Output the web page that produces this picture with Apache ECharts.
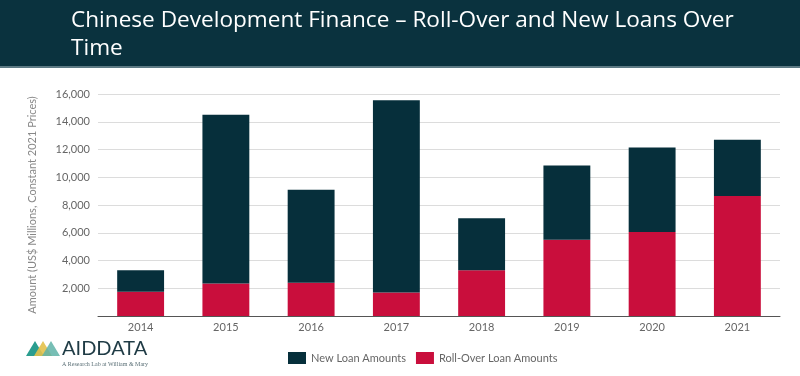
<!DOCTYPE html>
<html><head><meta charset="utf-8">
<script src="https://cdn.jsdelivr.net/npm/echarts@6/dist/echarts.min.js"></script>
<style>html,body{margin:0;padding:0;background:#fff}#c{width:800px;height:376px}</style>
</head><body><div id="c"></div>
<script>
const years = ['2014','2015','2016','2017','2018','2019','2020','2021'];
const rollOver = [1750, 2350, 2400, 1700, 3300, 5500, 6050, 8650];
const newLoans = [1550, 12150, 6700, 13850, 3750, 5350, 6100, 4050];
const yTicks = [0, 2000, 4000, 6000, 8000, 10000, 12000, 14000, 16000];

const chart = echarts.init(document.getElementById('c'));
const dark = '#062f3b', red = '#c90e3c';
chart.setOption({
  animation: false,
  graphic: [
    {type:'rect', shape:{x:0,y:0,width:800,height:67}, style:{fill:'#0a323e'}, z:0},
    {type:'rect', shape:{x:0,y:66,width:800,height:2}, style:{fill:'#5d7a84'}, z:0},
    {type:'text', left:71, top:7, z:10, style:{text:'Chinese Development Finance – Roll-Over and New Loans Over\nTime', fill:'#ffffff', font:'22.6px "Open Sans"', lineHeight:28}},
    {type:'polygon', shape:{points:[[26,356],[35,341],[44,356]]}, style:{fill:'#2a9d8f'}},
    {type:'polygon', shape:{points:[[34,356],[43,341],[52,356]]}, style:{fill:'#e3c14b', opacity:0.9}},
    {type:'polygon', shape:{points:[[42,356],[51,341],[60,356]]}, style:{fill:'#5fb3a8', opacity:0.85}},
    {type:'text', left:62, top:339, style:{text:'AIDDATA', fill:'#1f3b45', font:'20px "Lato"'}},
    {type:'text', left:62, top:361, style:{text:'A Research Lab at William & Mary', fill:'#5a6f76', font:'6px "Liberation Serif"'}}
  ],
  legend: {
    left: 283, top: 347, itemWidth: 18, itemHeight: 12, itemGap: 10,
    icon: 'rect',
    textStyle: {color:'#666', fontSize:11, fontFamily:'Lato'},
    data: ['New Loan Amounts','Roll-Over Loan Amounts']
  },
  grid: {left: 98, right: 20, top: 94, bottom: 60},
  xAxis: {
    type:'category', data: years,
    axisLine:{lineStyle:{color:'#555'}},
    axisTick:{show:false},
    axisLabel:{color:'#666', fontSize:11, fontFamily:'Lato', margin:6}
  },
  yAxis: {
    type:'value', min: yTicks[0], max: yTicks[yTicks.length-1], interval: 2000,
    name:'Amount (US$ Millions, Constant 2021 Prices)', nameLocation:'middle', nameGap:60,
    nameTextStyle:{color:'#888', fontSize:11, fontFamily:'Lato'},
    axisLabel:{color:'#666', fontSize:11, fontFamily:'Lato', margin:8,
      formatter: v => v === 0 ? '' : v.toLocaleString('en-US')},
    splitLine:{lineStyle:{color:'#dcdcdc', width:1}},
    axisLine:{show:false}, axisTick:{show:false}
  },
  series: [
    {name:'Roll-Over Loan Amounts', type:'bar', stack:'a', data: rollOver, itemStyle:{color:red}, barCategoryGap:'45%'},
    {name:'New Loan Amounts', type:'bar', stack:'a', data: newLoans, itemStyle:{color:dark}, barCategoryGap:'45%'}
  ]
});
</script></body></html>
